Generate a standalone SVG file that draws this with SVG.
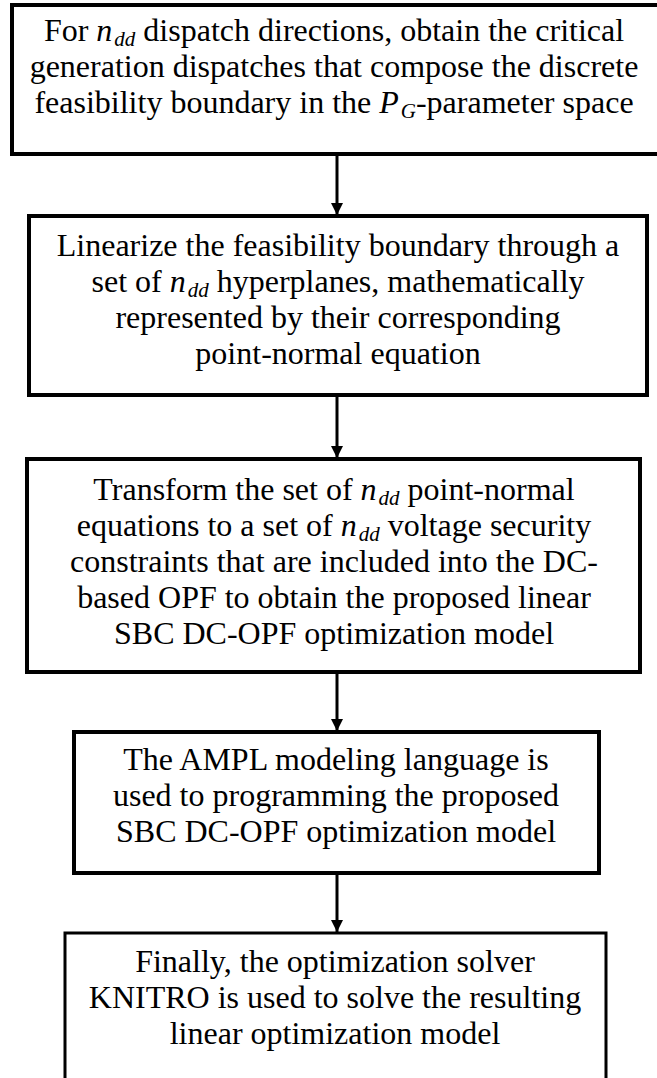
<svg xmlns="http://www.w3.org/2000/svg" width="657" height="1078" viewBox="0 0 657 1078">
<style>
.box{fill:#fff;stroke:#000;stroke-width:4}
.t{font-family:'Liberation Serif','Times New Roman',serif;font-size:32px;fill:#000;text-anchor:middle}
.i{font-style:italic}
.s{font-style:italic;font-size:21px}
.c{stroke:#000;stroke-width:3;fill:none}
</style>
<defs>
<marker id="ah" viewBox="0 0 10 10" refX="10" refY="5" markerWidth="5" markerHeight="4" markerUnits="strokeWidth" orient="auto">
<path d="M0,0 L10,5 L0,10 Z" fill="#000"/>
</marker>
</defs>
<rect width="657" height="1078" fill="#fff"/>
<g id="connectors">
<line class="c" x1="337" y1="154" x2="337" y2="215" marker-end="url(#ah)"/>
<line class="c" x1="337" y1="395" x2="337" y2="458" marker-end="url(#ah)"/>
<line class="c" x1="337" y1="672" x2="337" y2="731" marker-end="url(#ah)"/>
<line class="c" x1="337" y1="873" x2="337" y2="932" marker-end="url(#ah)"/>
</g>
<g id="node1">
<rect class="box" x="12" y="5" width="650" height="149"/>
<text class="t"><tspan x="334" y="41">For <tspan class="i">n</tspan><tspan class="s" dx="2" baseline-shift="-5">dd</tspan> dispatch directions, obtain the critical</tspan><tspan x="334" y="77">generation dispatches that compose the discrete</tspan><tspan x="334" y="113">feasibility boundary in the <tspan class="i">P</tspan><tspan class="s" dx="2" baseline-shift="-5">G</tspan>-parameter space</tspan></text>
</g>
<g id="node2">
<rect class="box" x="29" y="216" width="618" height="179"/>
<text class="t"><tspan x="338" y="256">Linearize the feasibility boundary through a</tspan><tspan x="338" y="292">set of <tspan class="i">n</tspan><tspan class="s" dx="2" baseline-shift="-5">dd</tspan> hyperplanes, mathematically</tspan><tspan x="338" y="328">represented by their corresponding</tspan><tspan x="338" y="364">point-normal equation</tspan></text>
</g>
<g id="node3">
<rect class="box" x="27" y="459" width="613" height="213"/>
<text class="t"><tspan x="334" y="500">Transform the set of <tspan class="i">n</tspan><tspan class="s" dx="2" baseline-shift="-5">dd</tspan> point-normal</tspan><tspan x="334" y="536">equations to a set of <tspan class="i">n</tspan><tspan class="s" dx="2" baseline-shift="-5">dd</tspan> voltage security</tspan><tspan x="334" y="572">constraints that are included into the DC-</tspan><tspan x="334" y="608">based OPF to obtain the proposed linear</tspan><tspan x="334" y="644">SBC DC-OPF optimization model</tspan></text>
</g>
<g id="node4">
<rect class="box" x="74" y="732" width="525" height="141"/>
<text class="t"><tspan x="336" y="770">The AMPL modeling language is</tspan><tspan x="336" y="806">used to programming the proposed</tspan><tspan x="336" y="842">SBC DC-OPF optimization model</tspan></text>
</g>
<g id="node5">
<path d="M65,1080 V933 H606 V1080" fill="#fff" stroke="#000" stroke-width="3"/>
<text class="t"><tspan x="335" y="972">Finally, the optimization solver</tspan><tspan x="335" y="1008">KNITRO is used to solve the resulting</tspan><tspan x="335" y="1044">linear optimization model</tspan></text>
</g>
</svg>
